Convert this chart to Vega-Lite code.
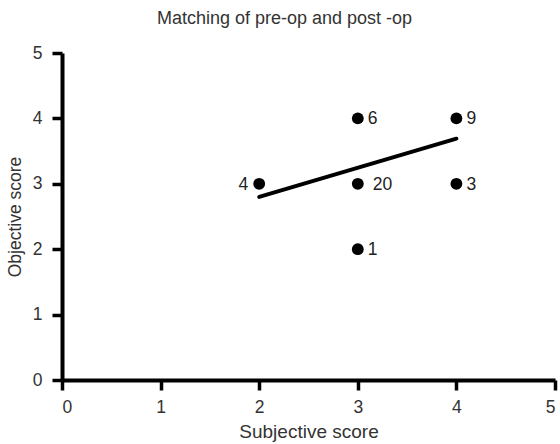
{
  "$schema": "https://vega.github.io/schema/vega-lite/v6.json",
  "width": 493,
  "height": 327,
  "autosize": {"type": "none"},
  "padding": {"left": 62, "top": 53, "right": 5, "bottom": 64},
  "background": "white",
  "config": {
    "view": {"stroke": null},
    "font": "Liberation Sans",
    "axis": {
      "grid": false,
      "domainColor": "black",
      "domainWidth": 4,
      "tickColor": "black",
      "tickWidth": 3.5,
      "tickSize": 10,
      "format": "d",
      "labelFont": "Liberation Sans",
      "labelFontSize": 17.5,
      "labelColor": "#333333",
      "titleFont": "Liberation Sans",
      "titleFontWeight": "normal",
      "titleColor": "#333333"
    }
  },
  "title": {
    "text": "Matching of pre-op and post -op",
    "fontSize": 18,
    "fontWeight": "normal",
    "color": "#333333",
    "font": "Liberation Sans",
    "anchor": "middle",
    "dx": -24,
    "offset": 16
  },
  "datasets": {
    "pts": [
      {"subjective": 2, "objective": 3, "count": 4},
      {"subjective": 3, "objective": 4, "count": 6},
      {"subjective": 3, "objective": 3, "count": 20},
      {"subjective": 3, "objective": 2, "count": 1},
      {"subjective": 4, "objective": 4, "count": 9},
      {"subjective": 4, "objective": 3, "count": 3}
    ],
    "fit": [
      {"subjective": 2, "objective": 2.8},
      {"subjective": 4, "objective": 3.69}
    ]
  },
  "layer": [
    {
      "data": {"name": "fit"},
      "mark": {"type": "line", "color": "black", "strokeWidth": 4, "strokeCap": "round"},
      "encoding": {
        "x": {"field": "subjective", "type": "quantitative", "scale": {"domain": [0, 5]},
              "axis": {"values": [0, 1, 2, 3, 4, 5], "title": "Subjective score", "titleFontSize": 19, "labelPadding": 8, "titlePadding": 7}},
        "y": {"field": "objective", "type": "quantitative", "scale": {"domain": [0, 5]},
              "axis": {"values": [0, 1, 2, 3, 4, 5], "title": "Objective score", "titleFontSize": 17.5, "labelPadding": 10, "titlePadding": 8}}
      }
    },
    {
      "data": {"name": "pts"},
      "mark": {"type": "point", "filled": true, "color": "black", "opacity": 1, "size": 140},
      "encoding": {
        "x": {"field": "subjective", "type": "quantitative"},
        "y": {"field": "objective", "type": "quantitative"}
      }
    },
    {
      "data": {"name": "pts"},
      "transform": [{"filter": "datum.subjective != 2 && datum.count != 20"}],
      "mark": {"type": "text", "align": "left", "baseline": "middle", "dx": 10, "dy": 1, "fontSize": 17.5, "color": "#222222"},
      "encoding": {
        "x": {"field": "subjective", "type": "quantitative"},
        "y": {"field": "objective", "type": "quantitative"},
        "text": {"field": "count"}
      }
    },
    {
      "data": {"name": "pts"},
      "transform": [{"filter": "datum.count == 20"}],
      "mark": {"type": "text", "align": "left", "baseline": "middle", "dx": 15, "dy": 1, "fontSize": 17.5, "color": "#222222"},
      "encoding": {
        "x": {"field": "subjective", "type": "quantitative"},
        "y": {"field": "objective", "type": "quantitative"},
        "text": {"field": "count"}
      }
    },
    {
      "data": {"name": "pts"},
      "transform": [{"filter": "datum.subjective == 2"}],
      "mark": {"type": "text", "align": "right", "baseline": "middle", "dx": -11, "dy": 1, "fontSize": 17.5, "color": "#222222"},
      "encoding": {
        "x": {"field": "subjective", "type": "quantitative"},
        "y": {"field": "objective", "type": "quantitative"},
        "text": {"field": "count"}
      }
    }
  ]
}
